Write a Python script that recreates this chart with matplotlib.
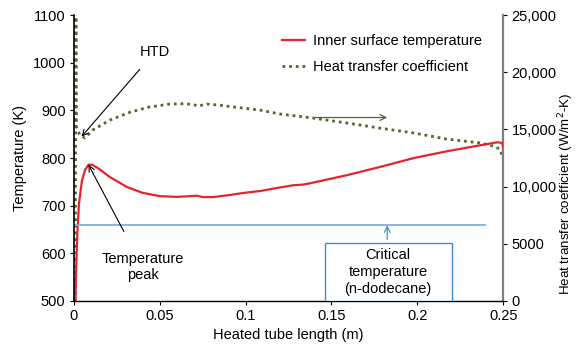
import matplotlib.pyplot as plt
from matplotlib.patches import Rectangle

plt.rcParams['font.family'] = ['Liberation Sans', 'DejaVu Sans']
plt.rcParams['font.size'] = 10.5

# inner surface temperature (K) along the heated tube
x_temp = [0.0009, 0.0013, 0.002, 0.003, 0.0047, 0.0065, 0.0085, 0.0105, 0.014,
          0.021, 0.031, 0.040, 0.050, 0.060, 0.068, 0.0717, 0.075, 0.081,
          0.090, 0.0985, 0.109, 0.118, 0.128, 0.133, 0.1375, 0.159, 0.178,
          0.198, 0.217, 0.237, 0.2465, 0.249, 0.2497, 0.25]
temp = [500, 560, 640, 705, 752, 775, 786, 786, 779,
        760, 739, 727, 720, 718.5, 720, 721, 718, 718,
        722, 726.6, 731, 737, 743, 744, 747, 764, 781,
        800, 814, 827, 833, 832, 829, 822]

# heat transfer coefficient (W/m2-K)
x_htc = [0.0008, 0.0012, 0.0015, 0.0035, 0.0064, 0.011, 0.021, 0.033, 0.044,
         0.056, 0.065, 0.070, 0.0725, 0.0775, 0.085, 0.093, 0.108, 0.12,
         0.139, 0.159, 0.178, 0.198, 0.217, 0.237, 0.244, 0.248, 0.25]
htc = [0, 30000, 15200, 14500, 14250, 14950, 15820, 16520, 16960,
       17220, 17250, 17150, 17050, 17220, 17120, 16960, 16700, 16350,
       16000, 15560, 15120, 14690, 14160, 13810, 13550, 13290, 12500]

t_crit = 659  # n-dodecane critical temperature (K)

fig = plt.figure(figsize=(5.77, 3.5), dpi=100)
ax = fig.add_axes([0.128, 0.14, 0.744, 0.817])
ax2 = ax.twinx()

ax.set_zorder(ax2.get_zorder() + 1)
ax.patch.set_visible(False)

ax.plot(x_temp, temp, color='#e8232b', lw=1.6, label='Inner surface temperature')
ax2.plot(x_htc, htc, color='#4f6a2a', lw=2.0, ls=(0, (1, 1.4)),
         label='Heat transfer coefficient')
ax.plot([0, 0.2395], [t_crit, t_crit], color='#7eb0de', lw=1.3)

ax.set_xlim(0, 0.25)
ax.set_ylim(500, 1100)
ax2.set_ylim(0, 25000)
ax.set_xticks([0, 0.05, 0.1, 0.15, 0.2, 0.25])
ax.set_xticklabels(['0', '0.05', '0.1', '0.15', '0.2', '0.25'])
ax.set_yticks(range(500, 1101, 100))
ax2.set_yticks([0, 5000, 10000, 15000, 20000, 25000])
ax2.set_yticklabels(['0', '5000', '10,000', '15,000', '20,000', '25,000'])

ax.set_xlabel('Heated tube length (m)', labelpad=3)
ax.set_ylabel('Temperature (K)', labelpad=4)
ax2.set_ylabel('Heat transfer coefficient (W/m$^2$-K)', fontsize=9.6)
ax2.yaxis.set_label_coords(1.124, 0.374)

for a in (ax, ax2):
    a.spines['top'].set_visible(False)
    a.tick_params(direction='out', length=3, width=0.8, pad=3)
ax.spines['right'].set_visible(False)
ax2.spines['left'].set_visible(False)
ax2.spines['bottom'].set_visible(False)
ax2.spines['right'].set_color('#7f7f7f')
ax2.spines['right'].set_linewidth(1.6)
ax.spines['left'].set_linewidth(1.2)
ax.spines['bottom'].set_linewidth(1.0)

# legend combining both axes
h1, l1 = ax.get_legend_handles_labels()
h2, l2 = ax2.get_legend_handles_labels()
ax.legend(h1[:1] + h2, l1[:1] + l2, loc='upper left', bbox_to_anchor=(0.485, 0.935),
          frameon=False, borderpad=0, borderaxespad=0, handlelength=1.6,
          handletextpad=0.5, labelspacing=0.85)

ax.annotate('HTD', xy=(0.0045, 845), xytext=(0.047, 1022),
            ha='center', va='center',
            arrowprops=dict(arrowstyle='->', color='black', lw=0.8,
                            shrinkA=7, shrinkB=0))
ax.annotate('Temperature\npeak', xy=(0.0085, 786), xytext=(0.040, 572),
            ha='center', va='center',
            arrowprops=dict(arrowstyle='->', color='black', lw=0.8,
                            shrinkA=14, shrinkB=0))

# arrow pointing the dotted curve to the right-hand axis
ax.annotate('', xy=(0.1825, 885), xytext=(0.140, 885),
            arrowprops=dict(arrowstyle='->', color='#4f6a2a', lw=0.9,
                            shrinkA=0, shrinkB=0))

# critical temperature label box resting on the x axis
ax.add_patch(Rectangle((0.146, 500), 0.074, 122, fc='white', ec='#3d8fd1',
                       lw=1.0, zorder=3))
ax.text(0.183, 561, 'Critical\ntemperature\n(n-dodecane)', ha='center',
        va='center', linespacing=1.25, zorder=4)
ax.annotate('', xy=(0.1825, t_crit), xytext=(0.1825, 629),
            arrowprops=dict(arrowstyle='->', color='#3d8fd1', lw=0.9,
                            shrinkA=0, shrinkB=0))

fig.savefig('out.png', dpi=100)
